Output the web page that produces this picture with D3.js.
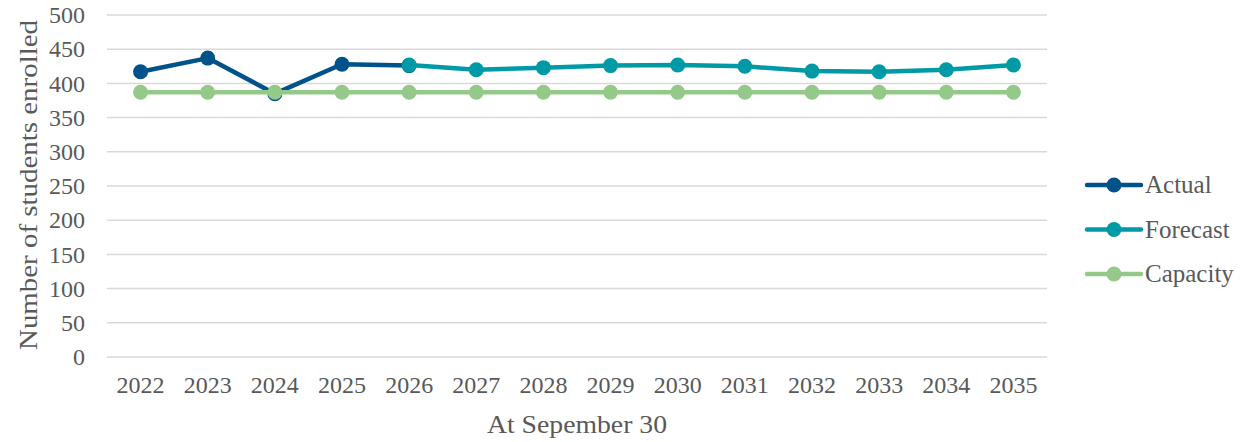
<!DOCTYPE html>
<html>
<head>
<meta charset="utf-8">
<script src="https://cdn.jsdelivr.net/npm/d3@7"></script>
<style>
  body { margin: 0; background: #fff; }
  text { font-family: "Liberation Serif", serif; fill: #595959; }
</style>
</head>
<body>
<div id="chart"></div>
<script>
// data
var years = ["2022","2023","2024","2025","2026","2027","2028","2029","2030","2031","2032","2033","2034","2035"];
var actual = [417, 437, 385, 428, 426];
var forecast = [null, null, null, null, 427, 420, 423, 426, 427, 425, 418, 417, 420, 427];
var capacity = [387, 387, 387, 387, 387, 387, 387, 387, 387, 387, 387, 387, 387, 387];
var yTicks = [0, 50, 100, 150, 200, 250, 300, 350, 400, 450, 500];
var seriesNames = ["Actual", "Forecast", "Capacity"];
var seriesColors = ["#00528a", "#009aa6", "#95c98a"];

var svgWidth = 1241, svgHeight = 442;
var margin = {top: 15, right: 194, bottom: 85, left: 107},
    width = svgWidth - margin.left - margin.right,
    height = svgHeight - margin.top - margin.bottom;

var svg = d3.select("#chart")
  .append("svg")
  .attr("width", svgWidth)
  .attr("height", svgHeight);

var chartgroup = svg.append("g")
  .attr("transform", "translate(" + margin.left + "," + margin.top + ")");

var x = d3.scaleBand()
  .domain(years)
  .range([0, width]);

var y = d3.scaleLinear()
  .domain([0, 500])
  .range([height, 0]);

// gridlines
chartgroup.selectAll(".grid")
  .data(yTicks)
  .enter()
  .append("line")
    .attr("x1", 0)
    .attr("x2", width)
    .attr("y1", d => y(d))
    .attr("y2", d => y(d))
    .style("stroke", "#d9d9d9")
    .style("stroke-width", 1.5);

// y axis labels
var yAxis = chartgroup.append("g")
  .call(d3.axisLeft(y).tickValues(yTicks).tickSize(0).tickPadding(22));
yAxis.select(".domain").remove();
yAxis.selectAll("text").style("font-size", "24px");

// x axis labels
var xAxis = chartgroup.append("g")
  .attr("transform", "translate(0," + height + ")")
  .call(d3.axisBottom(x).tickSize(0).tickPadding(19));
xAxis.select(".domain").remove();
xAxis.selectAll("text").style("font-size", "24px");

// series
var series = [actual, forecast, capacity];
var line = d3.line()
  .defined(d => d != null)
  .x((d, i) => x(years[i]) + x.bandwidth() / 2)
  .y(d => y(d));

series.forEach(function(vals, s) {
  chartgroup.append("path")
    .datum(vals)
    .attr("d", line)
    .style("fill", "none")
    .style("stroke", seriesColors[s])
    .style("stroke-width", 4.5)
    .style("stroke-linejoin", "round");

  chartgroup.selectAll(".pt" + s)
    .data(vals.map((v, i) => ({v: v, i: i})).filter(d => d.v != null))
    .enter()
    .append("circle")
      .attr("cx", d => x(years[d.i]) + x.bandwidth() / 2)
      .attr("cy", d => y(d.v))
      .attr("r", 7.5)
      .style("fill", seriesColors[s]);
});

// axis titles
svg.append("text")
  .attr("transform", "rotate(-90)")
  .attr("x", -185)
  .attr("y", 37)
  .attr("text-anchor", "middle")
  .style("font-size", "26px")
  .attr("textLength", 330)
  .attr("lengthAdjust", "spacingAndGlyphs")
  .text("Number of students enrolled");

svg.append("text")
  .attr("x", 577)
  .attr("y", 433)
  .attr("text-anchor", "middle")
  .style("font-size", "26px")
  .attr("textLength", 180)
  .attr("lengthAdjust", "spacingAndGlyphs")
  .text("At Sepember 30");

// legend
var legend = svg.selectAll(".legend")
  .data(seriesNames)
  .enter()
  .append("g")
    .attr("transform", (d, i) => "translate(1087," + (185 + i * 44.5) + ")");

legend.append("line")
  .attr("x1", 0).attr("x2", 54)
  .style("stroke", (d, i) => seriesColors[i])
  .style("stroke-width", 4.5)
  .style("stroke-linecap", "round");

legend.append("circle")
  .attr("cx", 27)
  .attr("r", 7.5)
  .style("fill", (d, i) => seriesColors[i]);

legend.append("text")
  .attr("x", 58)
  .attr("y", 8)
  .style("font-size", "25px")
  .text(d => d);
</script>
</body>
</html>
